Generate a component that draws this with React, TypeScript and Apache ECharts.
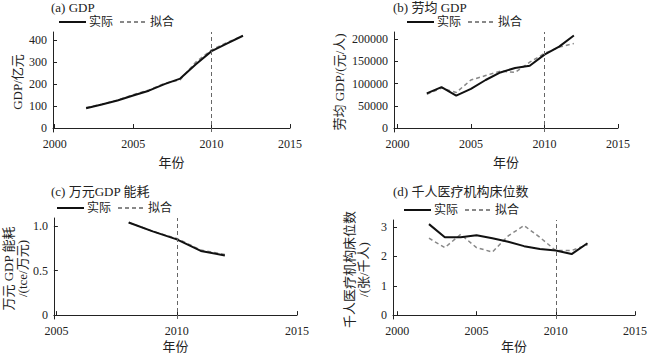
import React, { useEffect, useRef } from "react";
import * as echarts from "echarts";

const years = [2002, 2003, 2004, 2005, 2006, 2007, 2008, 2009, 2010, 2011, 2012];
const gdpActual = [90, 107, 125, 148, 170, 200, 225, 290, 350, 385, 420];
const gdpFit = [93, 108, 127, 152, 173, 203, 220, 300, 356, 390, 420];
const laborActual = [78000, 92000, 73000, 88000, 108000, 125000, 135000, 140000, 165000, 183000, 208000];
const laborFit = [76000, 90000, 80000, 108000, 118000, 128000, 125000, 148000, 168000, 182000, 190000];
const energyYears = [2008, 2009, 2010, 2011, 2012];
const energyActual = [1.04, 0.94, 0.85, 0.72, 0.67];
const energyFit = [1.04, 0.94, 0.86, 0.73, 0.68];
const bedActual = [3.1, 2.65, 2.65, 2.72, 2.62, 2.5, 2.35, 2.25, 2.2, 2.08, 2.45];
const bedFit = [2.62, 2.3, 2.75, 2.3, 2.15, 2.7, 3.05, 2.65, 2.2, 2.2, 2.4];

const xTicksA = [2000, 2005, 2010, 2015];
const xTicksC = [2005, 2010, 2015];
const yTicksA = [0, 100, 200, 300, 400];
const yTicksB = [0, 50000, 100000, 150000, 200000];
const yTicksC = [0, 0.5, 1.0];
const yTicksD = [0, 1, 2, 3];

const titles = ["(a) GDP", "(b) 劳均 GDP", "(c) 万元GDP 能耗", "(d) 千人医疗机构床位数"];
const yNames = ["GDP/亿元", "劳均 GDP/(元/人)", "万元 GDP 能耗\n/(tce/万元)", "千人医疗机构床位数\n/(张/千人)"];
const xName = "年份";
const markYear = 2010;

const FONT = "'Liberation Serif', 'Noto Sans CJK SC', serif";

function pairs(xs: number[], ys: number[]) {
  return xs.map((x, i) => [x, ys[i]]);
}

export default function App() {
  const ref = useRef<HTMLDivElement>(null);
  useEffect(() => {
    if (!ref.current) return;
    const chart = echarts.init(ref.current, undefined, { renderer: "svg" });

    const grids = [
      { left: 53, top: 32, width: 237, height: 100 },
      { left: 394, top: 32, width: 224, height: 100 },
      { left: 52, top: 218, width: 245, height: 103 },
      { left: 393, top: 220, width: 244, height: 101 },
    ];
    const xRanges = [
      [1999.89, 2015, xTicksA],
      [1999.77, 2015, xTicksA],
      [2004.89, 2015, xTicksC],
      [1999.73, 2015, xTicksA],
    ];
    const yRanges = [
      [-18, 437, yTicksA],
      [-9000, 216000, yTicksB],
      [-0.044, 1.09, yTicksC],
      [-0.13, 3.24, yTicksD],
    ];
    const yNameGaps = [29, 48, 24, 23];
    const xNameGaps = [24, 24, 21, 21];
    const yFmt = [
      (v: number) => String(v),
      (v: number) => String(v),
      (v: number) => (v === 0 ? "0" : v.toFixed(1)),
      (v: number) => String(v),
    ];

    const axisLine = { show: true, lineStyle: { color: "#222", width: 1 } };
    const axisTick = (vals: number[]) => ({ show: true, inside: true, length: 4, lineStyle: { color: "#222" }, customValues: vals });

    const xAxis = xRanges.map((r, i) => ({
      type: "value",
      gridIndex: i,
      min: r[0] as number,
      max: r[1] as number,
      name: xName,
      nameLocation: "middle",
      nameGap: xNameGaps[i],
      nameTextStyle: { fontFamily: FONT, fontSize: 13, color: "#222" },
      axisLine,
      axisTick: axisTick(r[2] as number[]),
      splitLine: { show: false },
      axisLabel: {
        customValues: r[2] as number[],
        fontFamily: FONT,
        fontSize: 12,
        color: "#222",
        margin: 6,
        formatter: (v: number) => String(v),
      },
    }));
    const yAxis = yRanges.map((r, i) => ({
      type: "value",
      gridIndex: i,
      min: r[0] as number,
      max: r[1] as number,
      name: yNames[i],
      nameLocation: "middle",
      nameRotate: 90,
      nameGap: yNameGaps[i],
      nameTextStyle: { fontFamily: FONT, fontSize: 13, color: "#222", lineHeight: 14 },
      axisLine,
      axisTick: axisTick(r[2] as number[]),
      splitLine: { show: false },
      axisLabel: { customValues: r[2] as number[], fontFamily: FONT, fontSize: 12, color: "#222", margin: 6, formatter: yFmt[i] },
    }));

    const dataSets = [
      [pairs(years, gdpActual), pairs(years, gdpFit)],
      [pairs(years, laborActual), pairs(years, laborFit)],
      [pairs(energyYears, energyActual), pairs(energyYears, energyFit)],
      [pairs(years, bedActual), pairs(years, bedFit)],
    ];

    const series: any[] = [];
    dataSets.forEach((d, i) => {
      series.push({
        type: "line",
        name: "实际",
        xAxisIndex: i,
        yAxisIndex: i,
        data: d[0],
        symbol: "none",
        lineStyle: { color: "#111", width: 2 },
        itemStyle: { color: "#111" },
        z: 3,
        markLine: {
          silent: true,
          symbol: "none",
          label: { show: false },
          lineStyle: { color: "#666", type: [4, 3], width: 1 },
          data: [{ xAxis: markYear }],
        },
      });
      series.push({
        type: "line",
        name: "拟合",
        xAxisIndex: i,
        yAxisIndex: i,
        data: d[1],
        symbol: "none",
        lineStyle: { color: "#888", width: 1.5, type: [4, 3] },
        itemStyle: { color: "#888" },
        z: 2,
      });
    });

    const titlePos = [
      { left: 47, top: 0 },
      { left: 389, top: 0 },
      { left: 47, top: 184 },
      { left: 389, top: 184 },
    ];
    const legendPos = [
      { left: 58, top: 16 },
      { left: 406, top: 16 },
      { left: 56, top: 202 },
      { left: 403, top: 204 },
    ];

    chart.setOption({
      animation: false,
      backgroundColor: "#fff",
      title: titles.map((t, i) => ({
        text: t,
        left: titlePos[i].left,
        top: titlePos[i].top,
        padding: [1, 4],
        textStyle: { fontFamily: FONT, fontSize: 13, fontWeight: "normal", color: "#222" },
      })),
      legend: legendPos.map((p) => ({
        data: ["实际", "拟合"],
        left: p.left,
        top: p.top,
        padding: 0,
        itemWidth: 27,
        itemHeight: 12,
        itemGap: 6,
        selectedMode: false,
        itemStyle: { opacity: 0 },
        textStyle: { fontFamily: FONT, fontSize: 12, color: "#222", padding: [0, 0, 0, -2] },
      })),
      grid: grids,
      xAxis,
      yAxis,
      series,
    });
    return () => chart.dispose();
  }, []);
  return <div ref={ref} style={{ position: "fixed", left: 0, top: 0, width: 650, height: 354 }} />;
}
